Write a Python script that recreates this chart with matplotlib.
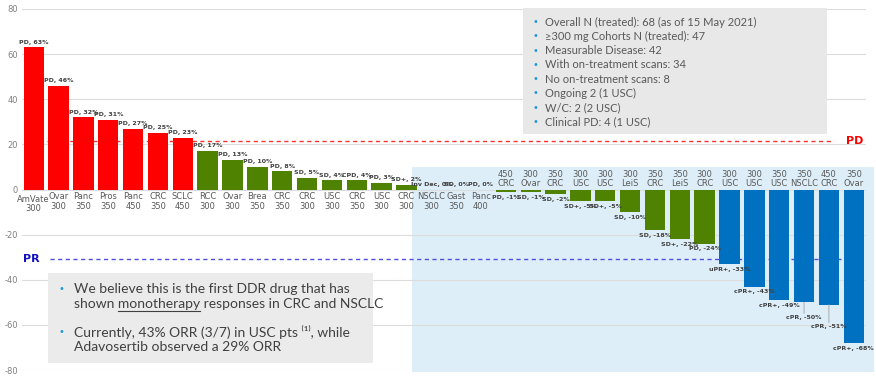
import matplotlib
matplotlib.use('Agg')
import matplotlib.pyplot as plt
from matplotlib.patches import Rectangle
from matplotlib.lines import Line2D

plt.rcParams['axes.unicode_minus'] = False

# ---------------- data ----------------
tumor_types = ["AmVate", "Ovar", "Panc", "Pros", "Panc", "CRC", "SCLC", "RCC", "Ovar", "Brea",
               "CRC", "CRC", "USC", "CRC", "USC", "CRC", "NSCLC", "Gast", "Panc", "CRC",
               "Ovar", "CRC", "USC", "USC", "LeiS", "CRC", "LeiS", "CRC", "USC", "USC",
               "USC", "NSCLC", "CRC", "Ovar"]
doses = [300, 300, 350, 350, 450, 350, 450, 300, 300, 350,
         350, 300, 300, 350, 300, 300, 300, 350, 400, 450,
         300, 350, 300, 300, 300, 350, 350, 300, 300, 300,
         350, 350, 450, 350]
changes = [63, 46, 32, 31, 27, 25, 23, 17, 13, 10,
           8, 5, 4, 4, 3, 2, 0, 0, 0, -1,
           -1, -2, -5, -5, -10, -18, -22, -24, -33, -43,
           -49, -50, -51, -68]
responses = ["PD", "PD", "PD", "PD", "PD", "PD", "PD", "PD", "PD", "PD",
             "PD", "SD", "SD", "CPD", "PD", "SD+", "Inv Dec", "SD", "PD", "PD",
             "SD", "SD", "SD+", "SD+", "SD", "SD", "SD+", "PD", "uPR+", "cPR+",
             "cPR+", "cPR", "cPR", "cPR+"]
groups = ["PD"] * 7 + ["SD"] * 21 + ["PR"] * 6

pd_threshold = 21.5
pr_threshold = -31

info_lines = ["Overall N (treated): 68 (as of 15 May 2021)",
              "\u2265300 mg Cohorts N (treated): 47",
              "Measurable Disease: 42",
              "With on-treatment scans: 34",
              "No on-treatment scans: 8",
              "Ongoing 2 (1 USC)",
              "W/C: 2 (2 USC)",
              "Clinical PD: 4 (1 USC)"]

# ---------------- styles ----------------
colors = {"PD": "#ff0000", "SD": "#4f8200", "PR": "#0070c0"}
label_extra = {31: 7, 32: 12}   # extra downward offset (pt) for crowded labels

W, H = 876, 382
fig = plt.figure(figsize=(W / 100, H / 100), dpi=100)
fig.patch.set_facecolor('white')

def fx(px):
    return px / W

def fy(py):
    return 1 - py / H

ax_left, ax_right, ax_top, ax_bottom = 22, 866, 9, 370
ax = fig.add_axes([fx(ax_left), fy(ax_bottom), (ax_right - ax_left) / W, (ax_bottom - ax_top) / H])
step = 24.85
x0px = 33.7
ax.set_xlim((ax_left - x0px) / step, (ax_right - x0px) / step)
ax.set_ylim(-80, 80)
for s in ax.spines.values():
    s.set_visible(False)
ax.set_xticks([])
ax.set_yticks(range(-80, 81, 20))
ax.tick_params(axis='y', length=0, pad=3, labelsize=6, labelcolor='#808080')
ax.yaxis.grid(True, color='#dcdcdc', lw=0.8, zorder=1)
ax.set_axisbelow(True)

n = len(changes)
xs = list(range(n))

# shaded region for on-treatment scans
shade = Rectangle((15.22, -81), 33.8 - 15.22, 91, facecolor='#ddeef8', edgecolor='none',
                  zorder=0, clip_on=False)
ax.add_patch(shade)

# thresholds
ax.plot([0.55, 32.2], [pd_threshold, pd_threshold], ls=(0, (3, 2.5)), color='#ff3030', lw=1.0, zorder=1.5)
ax.plot([0.66, 33.25], [pr_threshold, pr_threshold], ls=(0, (3, 2.5)), color='#5050e0', lw=1.0, zorder=1.5)
ax.text(32.7, pd_threshold, "PD", color='#ff0000', fontsize=8, fontweight='bold', va='center', ha='left')
ax.text(-0.42, pr_threshold, "PR", color='#1010c0', fontsize=8, fontweight='bold', va='center', ha='left')

bar_colors = [colors[g] for g in groups]
ax.bar(xs, changes, width=0.82, color=bar_colors, zorder=2)

# data labels
lab_font = dict(fontsize=4.5, fontweight='bold', color='#404040', family='DejaVu Sans')
for i, (v, r) in enumerate(zip(changes, responses)):
    txt = f"{r}, {v}%"
    if v >= 0:
        ax.annotate(txt, (i, v), xytext=(0, 2), textcoords='offset points',
                    ha='center', va='bottom', zorder=5, **lab_font)
    else:
        extra = label_extra.get(i, 0)
        ax.annotate(txt, (i, v), xytext=(0, -2 - extra), textcoords='offset points',
                    ha='center', va='top', zorder=5, **lab_font)
        if extra:
            ax.annotate("", (i, v), xytext=(0, -extra - 1), textcoords='offset points',
                        arrowprops=dict(arrowstyle='-', color='#a0a0a0', lw=0.6,
                                        shrinkA=0, shrinkB=0))

# category labels
cat_font = dict(fontsize=6.0, color='#595959', family='DejaVu Sans', linespacing=1.05)
for i, (v, t, d) in enumerate(zip(changes, tumor_types, doses)):
    if v >= 0:
        off = -4 if i == 0 else -2
        ax.annotate(f"{t}\n{d}", (i, 0), xytext=(0, off), textcoords='offset points',
                    ha='center', va='top', zorder=5, **cat_font)
    else:
        ax.annotate(f"{d}\n{t}", (i, 0), xytext=(0, 1), textcoords='offset points',
                    ha='center', va='bottom', zorder=5, **cat_font)

# top-right info box
fig.patches.append(Rectangle((fx(523), fy(134)), (827 - 523) / W, (134 - 8) / H,
                             transform=fig.transFigure, facecolor='#e8e8e8',
                             edgecolor='none', zorder=3))
for k, line in enumerate(info_lines):
    yc = 22 + k * 14.3
    fig.text(fx(532), fy(yc), "\u2022", color='#1f9ad6', fontsize=7, va='center', ha='left',
             family='DejaVu Sans', zorder=6)
    fig.text(fx(545), fy(yc), line, color='#595959', fontsize=8, va='center', ha='left',
             family=['Lato', 'DejaVu Sans'], zorder=6)

# bottom-left message box
fig.patches.append(Rectangle((fx(48), fy(363)), (373 - 48) / W, (363 - 273) / H,
                             transform=fig.transFigure, facecolor='#ebebeb',
                             edgecolor='none', zorder=3))
msg_font = dict(color='#404040', fontsize=10, va='center', ha='left',
                family=['Lato', 'DejaVu Sans'], zorder=6)
fig.text(fx(58), fy(289), "\u2022", color='#1f9ad6', fontsize=7, va='center', ha='left', zorder=6)
fig.text(fx(58), fy(332), "\u2022", color='#1f9ad6', fontsize=7, va='center', ha='left', zorder=6)
fig.text(fx(74), fy(289), "We believe this is the first DDR drug that has", **msg_font)
fig.text(fx(74), fy(304), "shown monotherapy responses in CRC and NSCLC", **msg_font)
fig.text(fx(74), fy(332), "Currently, 43% ORR (3/7) in USC pts \u207d\u00b9\u207e, while", **msg_font)
fig.text(fx(74), fy(347), "Adavosertib observed a 29% ORR", **msg_font)

# underline "monotherapy"
renderer = fig.canvas.get_renderer()
probe_font = {k: v for k, v in msg_font.items() if k not in ('va', 'ha')}
probe1 = fig.text(0, 0, "shown ", **probe_font)
probe2 = fig.text(0, 0, "shown monotherapy", **probe_font)
w1 = probe1.get_window_extent(renderer).width
w2 = probe2.get_window_extent(renderer).width
probe1.remove()
probe2.remove()
fig.lines.append(Line2D([fx(74 + w1), fx(74 + w2)], [fy(310.5), fy(310.5)],
                        transform=fig.transFigure, color='#404040', lw=0.8, zorder=6))

fig.savefig('out.png', dpi=100, facecolor='white')
